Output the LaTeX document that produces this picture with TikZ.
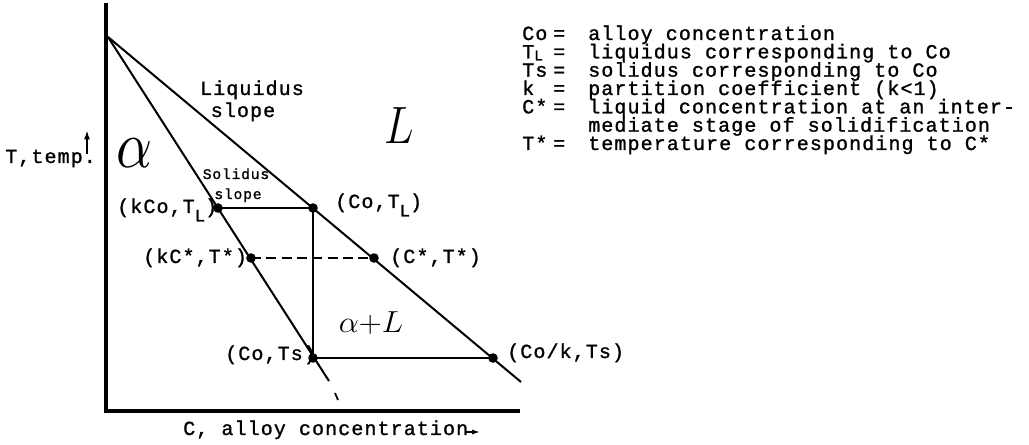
\documentclass[tikz,border=0pt]{standalone}
\usepackage{fontspec}
\usetikzlibrary{arrows.meta}
\newfontfamily\tw[LetterSpace=5.5,FakeBold=1.2]{Liberation Mono}
\newcommand{\twn}{\tw\fontsize{15pt}{13.75pt}\selectfont\lineskiplimit=-1000pt\relax}
\newcommand{\tws}{\tw\fontsize{11pt}{11pt}\selectfont}
\newcommand{\lsub}[1]{\raisebox{-0.42em}{\fontsize{13pt}{13pt}\selectfont #1}}
\newcommand{\lsubk}[1]{\smash{\raisebox{-0.1em}{\fontsize{11pt}{11pt}\selectfont #1}}}
\tikzset{
  dot/.style={circle,fill=black,inner sep=0pt,minimum size=7.2pt},
  axis/.style={line width=2.3pt},
  curve/.style={line width=1.5pt},
  lbl/.style={inner sep=0pt,anchor=base west,font=\twn},
  lblc/.style={inner sep=0pt,anchor=base,font=\twn},
  legcol/.style={inner sep=0pt,anchor=base west,font=\twn,align=left},
  hand/.style={inner sep=0pt,anchor=center}
}
\begin{document}
\begin{tikzpicture}[x=0.75pt,y=-0.75pt]
\useasboundingbox (0,0) rectangle (1029,445);
% axes
\coordinate (Ytop) at (106,3);
\coordinate (O) at (106,411);
\coordinate (Xend) at (520,411);
\draw[axis] (Ytop) -- (O) -- (Xend);
% key points
\coordinate (A) at (108,37);
\coordinate (LE) at (521,382);
\coordinate (SE) at (329,381);
\coordinate (D1) at (335,393);
\coordinate (D2) at (338,400);
\node[dot] (kCoTL) at (218,208) {};
\node[dot] (CoTL) at (313,208) {};
\node[dot] (kCs) at (251,258) {};
\node[dot] (Cs) at (374,258) {};
\node[dot] (CoTs) at (313,358) {};
\node[dot] (Cok) at (493,358) {};
% liquidus and solidus
\draw[curve] (A) -- (LE);
\draw[curve] (A) -- (SE);
\draw[line width=1.3pt] (D1) -- (D2);
% tie lines
\draw[curve] (kCoTL.center) -- (CoTL.center);
\draw[curve] (CoTL.center) -- (CoTs.center);
\draw[curve] (CoTs.center) -- (Cok.center);
\draw[line width=1.5pt,dash pattern=on 7.5pt off 4pt] (kCs.center) -- (Cs.center);
% point labels
\node[lbl] (l1) at (117,213) {(kCo,T\lsub{L})};
\node[lbl] (l2) at (335,208) {(Co,T\lsub{L})};
\node[lbl] (l3) at (143,263) {(kC*,T*)};
\node[lbl] (l4) at (390,263) {(C*,T*)};
\node[lbl] (l5) at (225,360) {(Co,Ts)};
\node[lbl] (l6) at (507,358) {(Co/k,Ts)};
% slope labels
\node[lblc] (liq1) at (252,95) {Liquidus};
\node[lblc] (liq2) at (243,117) {slope};
\node[lblc,font=\tws] (sol1) at (236,179) {Solidus};
\node[lblc,font=\tws] (sol2) at (238,199) {slope};
% phase labels
\node[hand] (alpha) at (135,153) {\scalebox{4.2}[5]{$\alpha$}};
\node[hand] (Lq) at (399,126) {\scalebox{1.6}[1.9]{\fontsize{20pt}{20pt}\selectfont$L$}};
\node[hand] (aL) at (371,323) {\scalebox{1.15}[1.1]{\fontsize{20pt}{20pt}\selectfont$\alpha{+}L$}};
% axis labels
\node[lbl] (ty) at (5,163) {T,temp.};
\coordinate (ta1) at (87,154);
\coordinate (ta2) at (87,130);
\draw[line width=1.8pt,-{Latex[length=7pt,width=4.5pt]}] (ta1) -- (ta2);
\node[lbl] (tx) at (183,435) {C, alloy concentration};
\coordinate (xa1) at (466,432);
\coordinate (xa2) at (480,432);
\draw[line width=1.5pt,-{Latex[length=6pt,width=4pt]}] (xa1) -- (xa2);
% legend (anchored at the baseline of the last line)
\node[legcol] (terms) at (522,150) {Co\\T\lsubk{L}\\Ts\\k\\C*\\\mbox{}\\T*};
\node[legcol] (eqs) at (553,150) {=\\=\\=\\=\\=\\\mbox{}\\=};
\node[legcol] (defs) at (588,150) {alloy concentration\\liquidus corresponding to Co\\solidus corresponding to Co\\partition coefficient (k<1)\\liquid concentration at an inter-\\mediate stage of solidification\\temperature corresponding to C*};
\end{tikzpicture}
\end{document}
